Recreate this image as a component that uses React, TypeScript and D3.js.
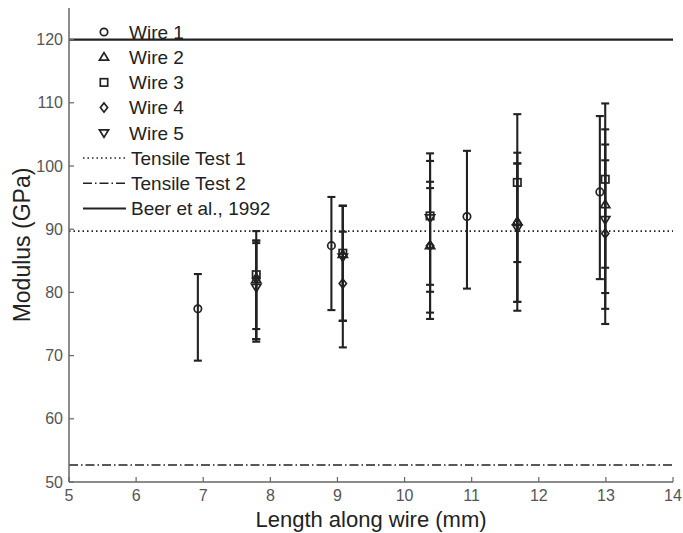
import React from "react";
import * as d3 from "d3";

const W = 683, H = 533;
const M = { left: 69, right: 10, top: 8, bottom: 51 };

const xTicks = [5, 6, 7, 8, 9, 10, 11, 12, 13, 14];
const yTicks = [50, 60, 70, 80, 90, 100, 110, 120];

const wireNames = ["Wire 1", "Wire 2", "Wire 3", "Wire 4", "Wire 5"];
const wireSymbols = ["circle", "triUp", "square", "diamond", "triDown"];

const w1x = [6.92, 8.91, 10.93, 12.91];
const w1mean = [77.4, 87.4, 92.0, 95.9];
const w1lo = [69.2, 77.2, 80.6, 82.1];
const w1hi = [82.9, 95.1, 102.4, 107.9];

const clusterX = [7.79, 9.08, 10.38, 11.68, 12.99];
const w2mean = [82.0, 86.0, 87.4, 91.2, 93.9];
const w2lo = [74.2, 75.5, 76.8, 78.5, 79.9];
const w2hi = [88.2, 93.7, 97.5, 102.1, 105.8];
const w3mean = [82.8, 86.2, 92.1, 97.4, 97.9];
const w3lo = [72.6, 75.5, 81.2, 84.8, 83.9];
const w3hi = [89.7, 93.7, 102.0, 108.2, 109.9];
const w4mean = [82.2, 81.4, 87.4, 91.0, 89.3];
const w4lo = [72.2, 71.3, 75.8, 77.1, 75.0];
const w4hi = [87.8, 89.6, 96.5, 100.4, 100.9];
const w5mean = [80.8, 85.6, 91.8, 90.2, 91.5];
const w5lo = [72.6, 75.5, 80.1, 78.5, 77.4];
const w5hi = [88.2, 93.7, 100.8, 100.4, 103.4];

const refNames = ["Tensile Test 1", "Tensile Test 2", "Beer et al., 1992"];
const refValues = [89.7, 52.7, 120];
const refDash = ["1.5,3", "9,3,1.5,3", ""];

const series = [
  { x: w1x, mean: w1mean, lo: w1lo, hi: w1hi },
  { x: clusterX, mean: w2mean, lo: w2lo, hi: w2hi },
  { x: clusterX, mean: w3mean, lo: w3lo, hi: w3hi },
  { x: clusterX, mean: w4mean, lo: w4lo, hi: w4hi },
  { x: clusterX, mean: w5mean, lo: w5lo, hi: w5hi },
];

const INK = "#222";
const FONT = "'Liberation Sans', Arial, Helvetica, sans-serif";

function Marker({ type, cx, cy }: { type: string; cx: number; cy: number }) {
  const s = { fill: "none", stroke: INK, strokeWidth: 1.7 };
  if (type === "circle") return <circle cx={cx} cy={cy} r={3.7} {...s} />;
  if (type === "square") return <rect x={cx - 3.7} y={cy - 3.7} width={7.4} height={7.4} {...s} />;
  if (type === "diamond")
    return <path d={`M${cx},${cy - 4.6}L${cx + 3.6},${cy}L${cx},${cy + 4.6}L${cx - 3.6},${cy}Z`} {...s} />;
  if (type === "triUp")
    return <path d={`M${cx},${cy - 4.6}L${cx + 4.6},${cy + 3}L${cx - 4.6},${cy + 3}Z`} {...s} />;
  return <path d={`M${cx},${cy + 4.6}L${cx + 4.6},${cy - 3}L${cx - 4.6},${cy - 3}Z`} {...s} />;
}

export default function App() {
  const x = d3.scaleLinear().domain([5, 14]).range([M.left, W - M.right]);
  const y = d3.scaleLinear().domain([50, 125]).range([H - M.bottom, M.top]);
  const x0 = x(5), x1 = x(14), yb = y(50);
  const cap = 4;

  const legendRows = [...wireNames, ...refNames];
  const legY0 = 32, legDy = 25.2;

  return (
    <svg width={W} height={H} style={{ position: "absolute", left: 0, top: 0, background: "#fff" }} fontFamily={FONT}>
      {refValues.map((v, i) => (
        <line key={"ref" + i} x1={x0} x2={x1} y1={y(v)} y2={y(v)} stroke={INK}
          strokeWidth={i === 2 ? 2.2 : 1.6} strokeDasharray={refDash[i] || undefined} />
      ))}
      <line x1={x0} x2={x0} y1={y(125)} y2={yb} stroke="#666" strokeWidth={1.5} />
      <line x1={x0} x2={x1} y1={yb} y2={yb} stroke="#666" strokeWidth={1.5} />
      {yTicks.map((t) => (
        <g key={"yt" + t}>
          <line x1={x0} x2={x0 + 5} y1={y(t)} y2={y(t)} stroke="#666" strokeWidth={1.2} />
          <text x={x0 - 6} y={y(t)} dy="0.35em" textAnchor="end" fontSize={16} fill="#555">{t}</text>
        </g>
      ))}
      {xTicks.map((t) => (
        <g key={"xt" + t}>
          <line x1={x(t)} x2={x(t)} y1={yb} y2={yb - 5} stroke="#666" strokeWidth={1.2} />
          <text x={x(t)} y={yb + 19} textAnchor="middle" fontSize={16} fill="#555">{t}</text>
        </g>
      ))}
      <text x={(x0 + x1) / 2} y={H - 6} textAnchor="middle" fontSize={22} fill={INK}>Length along wire (mm)</text>
      <text transform={`translate(30,${(y(125) + yb) / 2}) rotate(-90)`} textAnchor="middle" fontSize={23} fill={INK}>Modulus (GPa)</text>

      {series.map((s, si) =>
        s.x.map((xv, i) => (
          <g key={`e${si}-${i}`} stroke={INK} strokeWidth={2.1}>
            <line x1={x(xv)} x2={x(xv)} y1={y(s.lo[i])} y2={y(s.hi[i])} />
            <line x1={x(xv) - cap} x2={x(xv) + cap} y1={y(s.lo[i])} y2={y(s.lo[i])} />
            <line x1={x(xv) - cap} x2={x(xv) + cap} y1={y(s.hi[i])} y2={y(s.hi[i])} />
          </g>
        ))
      )}
      {series.map((s, si) =>
        s.x.map((xv, i) => <Marker key={`m${si}-${i}`} type={wireSymbols[si]} cx={x(xv)} cy={y(s.mean[i])} />)
      )}

      {legendRows.map((name, i) => {
        const ly = legY0 + i * legDy;
        const isWire = i < wireNames.length;
        return (
          <g key={"leg" + i}>
            {isWire ? (
              <Marker type={wireSymbols[i]} cx={104} cy={ly} />
            ) : (
              <line x1={83} x2={126} y1={ly} y2={ly} stroke={INK} strokeWidth={i === 7 ? 2 : 1.6}
                strokeDasharray={refDash[i - wireNames.length] || undefined} />
            )}
            <text x={isWire ? 129 : 131} y={ly} dy="0.36em" fontSize={19} fill={INK}>{name}</text>
          </g>
        );
      })}
    </svg>
  );
}
